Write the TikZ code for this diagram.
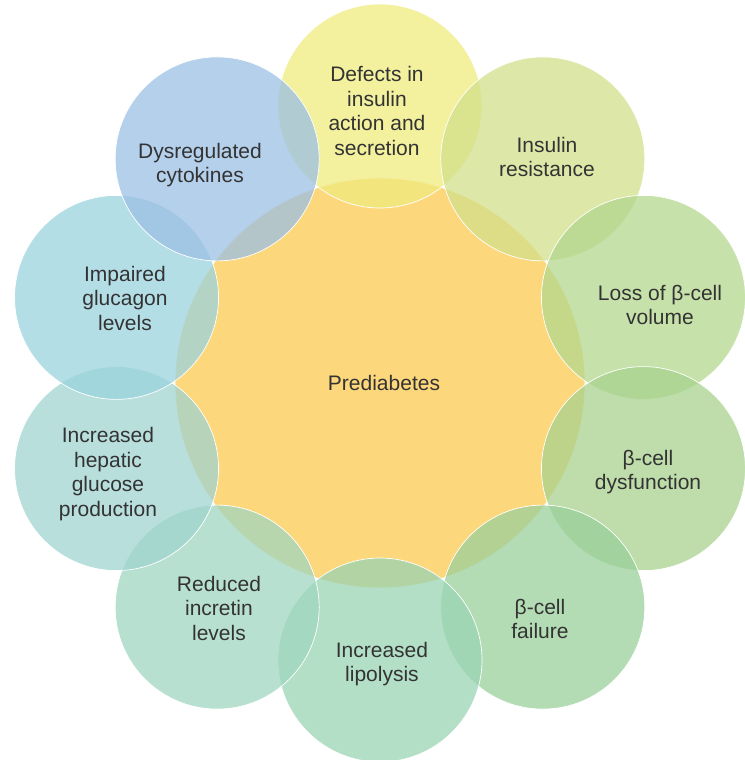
\documentclass[tikz,border=0pt]{standalone}
\usepackage{fontspec}
\setmainfont{Liberation Sans}

\definecolor{core}{HTML}{FDD77B}
\definecolor{txtgray}{HTML}{333333}
\definecolor{cyellow}{HTML}{EFEB7E}
\definecolor{clime}{HTML}{D2E08B}
\definecolor{cgreenA}{HTML}{B3D78E}
\definecolor{cgreenB}{HTML}{A8D28E}
\definecolor{cgreenC}{HTML}{9AD09B}
\definecolor{cmint}{HTML}{9AD4B3}
\definecolor{cseaA}{HTML}{A0D6C0}
\definecolor{cseaB}{HTML}{A0D4D0}
\definecolor{caqua}{HTML}{9BD3DE}
\definecolor{cblue}{HTML}{9BC0E4}

\tikzset{
  factor/.style={circle, minimum size=204pt, inner sep=0pt, draw=white,
                 line width=0.7pt, fill opacity=0.75},
  caption/.style={align=center, text=txtgray, inner sep=0pt,
                  font=\fontsize{21}{24.5}\selectfont},
}

\begin{document}
\begin{tikzpicture}[x=1pt, y=1pt]
\useasboundingbox (-380,-377) rectangle (364,383);

% middle circle
\node[circle, minimum size=410pt, inner sep=0pt, fill=core, draw=white, line width=0.7pt] (pre) at (0,0) {};

% ring of contributing factors
\node[factor, fill=cyellow] (defects)   at (90:277)   {};
\node[factor, fill=clime]   (resist)    at (54:277)   {};
\node[factor, fill=cgreenA] (volume)    at (18:277)   {};
\node[factor, fill=cgreenB] (dysfunc)   at (-18:277)  {};
\node[factor, fill=cgreenC] (failure)   at (-54:277)  {};
\node[factor, fill=cmint]   (lipol)     at (-90:277)  {};
\node[factor, fill=cseaA]   (incretin)  at (-126:277) {};
\node[factor, fill=cseaB]   (hepatic)   at (-162:277) {};
\node[factor, fill=caqua]   (glucagon)  at (162:277)  {};
\node[factor, fill=cblue]   (cytokine)  at (126:277)  {};

% texts
\node[caption] (tpre)      at (4, 0)       {Prediabetes};
\node[caption] (tdefects)  at (-3, 272)    {Defects in\\insulin\\action and\\secretion};
\node[caption] (tresist)   at (167, 226)   {Insulin\\resistance};
\node[caption] (tvolume)   at (280, 78)    {Loss of β-cell\\volume};
\node[caption] (tdysfunc)  at (268, -89)   {β-cell\\dysfunction};
\node[caption] (tfailure)  at (160, -236)  {β-cell\\failure};
\node[caption] (tlipol)    at (2, -281)    {Increased\\lipolysis};
\node[caption] (tincretin) at (-161, -225) {Reduced\\incretin\\levels};
\node[caption] (thepatic)  at (-272, -91)  {Increased\\hepatic\\glucose\\production};
\node[caption] (tglucagon) at (-255, 85)   {Impaired\\glucagon\\levels};
\node[caption] (tcytokine) at (-180, 218)  {Dysregulated\\cytokines};

\end{tikzpicture}
\end{document}
